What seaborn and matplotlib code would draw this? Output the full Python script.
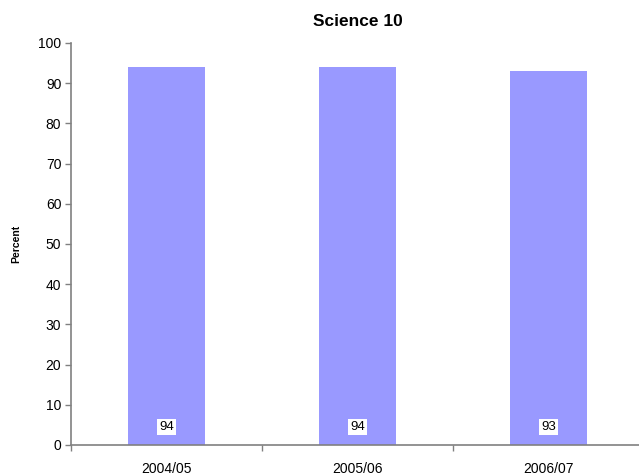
import matplotlib
matplotlib.use("Agg")
import matplotlib.pyplot as plt
import seaborn as sns
import pandas as pd

# Data
years = ["2004/05", "2005/06", "2006/07"]
percent = [94, 94, 93]

df = pd.DataFrame({"year": years, "percent": percent})

sns.set_style("white")
plt.rcParams["font.family"] = ["Liberation Sans", "DejaVu Sans"]
plt.rcParams["text.color"] = "black"
plt.rcParams["axes.labelcolor"] = "black"
plt.rcParams["xtick.labelcolor"] = "black"
plt.rcParams["ytick.labelcolor"] = "black"

fig = plt.figure(figsize=(6.39, 4.76), dpi=100)
ax = fig.add_axes([71 / 639, 31 / 476, 573 / 639, 402 / 476])

sns.barplot(data=df, x="year", y="percent", color="#9999FF", saturation=1,
            width=0.4, linewidth=0, ax=ax)

# value labels in white boxes near the bottom of each bar
for i, v in enumerate(percent):
    ax.text(i, 4.5, str(v), ha="center", va="center", fontsize=9.5,
            bbox=dict(facecolor="white", edgecolor="none", pad=1.2))

ax.set_xlim(-0.5, 2.5)
ax.set_ylim(0, 100)
ax.set_yticks(range(0, 101, 10))
ax.tick_params(axis="y", labelsize=10, length=4, width=1, color="#808080",
               direction="out", left=True, pad=3)

# category ticks sit between the bars
ax.set_xticks(range(len(years)))
ax.set_xticklabels(years, fontsize=10)
ax.tick_params(axis="x", length=0, pad=12.5)
ax.set_xticks([-0.5, 0.5, 1.5, 2.5], minor=True)
ax.tick_params(axis="x", which="minor", length=4, width=1, color="#808080",
               direction="out", bottom=True)

for side in ["top", "right"]:
    ax.spines[side].set_visible(False)
for side in ["left", "bottom"]:
    ax.spines[side].set_color("#808080")
    ax.spines[side].set_linewidth(1.2)

ax.set_xlabel("")
ax.set_ylabel("Percent", fontsize=7.5, fontweight="bold", labelpad=12)
ax.set_title("Science 10", fontsize=12.5, fontweight="bold", pad=12)

fig.savefig("out.png", dpi=100)
plt.close(fig)
